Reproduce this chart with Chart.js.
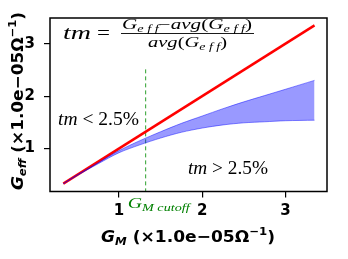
<!DOCTYPE html>
<html>
<head>
<meta charset="utf-8">
<script src="https://cdn.jsdelivr.net/npm/chart.js@4.4.0/dist/chart.umd.min.js"></script>
<style>
  html, body { margin: 0; padding: 0; background: #fff; }
  #wrap { width: 348px; height: 259px; }
</style>
</head>
<body>
<div id="wrap"><canvas id="grafico" width="348" height="259"></canvas></div>
<script>
// datos (unidades de 1e-05 Ohm^-1)
const gmIdeal = [0.33, 3.35];
const geffIdeal = [0.33, 3.35];

const gmBanda = [0.33, 0.5, 0.75, 1.0, 1.25, 1.5, 1.75, 2.0, 2.25, 2.5, 2.75, 3.0, 3.35];
const geffAlto = [0.33, 0.50, 0.73, 0.96, 1.15, 1.32, 1.48, 1.62, 1.76, 1.89, 2.01, 2.13, 2.30];
const geffBajo = [0.33, 0.49, 0.71, 0.92, 1.07, 1.20, 1.31, 1.39, 1.45, 1.49, 1.51, 1.53, 1.54];

const gmCutoff = 1.32;
const cutoffTop = 2.51;

const xTicks = [1, 2, 3];
const yTicks = [1, 2, 3];
const xLim = [0.17, 3.5];
const yLim = [0.18, 3.49];

const pts = (xs, ys) => xs.map((x, i) => ({ x, y: ys[i] }));

// texto enriquecido: partes con fuente y desplazamiento vertical
function medir(ctx, partes) {
    let w = 0;
    partes.forEach(p => { ctx.font = p.f; w += ctx.measureText(p.t).width; });
    return w;
}
// escribe las partes ocupando un ancho dado (estira en horizontal)
function escribir(ctx, partes, x, y, ancho) {
    const w = medir(ctx, partes);
    const s = ancho ? ancho / w : 1;
    ctx.save();
    ctx.translate(x, y);
    ctx.scale(s, 1);
    let cx = 0;
    partes.forEach(p => {
        ctx.font = p.f;
        ctx.fillText(p.t, cx, p.dy || 0);
        cx += ctx.measureText(p.t).width;
    });
    ctx.restore();
    return w * s;
}

const SERIF = '"Liberation Serif", "DejaVu Serif", serif';
const SANS = '"DejaVu Sans", sans-serif';

const textos = {
    id: 'textos',
    afterDraw(chart) {
        const ctx = chart.ctx;
        const a = chart.chartArea;
        const xs = chart.scales.x;
        ctx.save();
        ctx.textBaseline = 'alphabetic';
        ctx.fillStyle = '#000';

        // marco
        ctx.strokeStyle = '#000';
        ctx.lineWidth = 1.5;
        ctx.strokeRect(a.left, a.top, a.right - a.left, a.bottom - a.top);

        // formula tm
        escribir(ctx, [{ t: 'tm', f: 'italic 19px ' + SERIF }], 63, 39, 28);
        escribir(ctx, [{ t: '=', f: '19px ' + SERIF }], 97, 39, 13);
        const num = [
            { t: 'G', f: 'italic 14px ' + SERIF },
            { t: 'e f f', f: 'italic 9.5px ' + SERIF, dy: 3 },
            { t: '\u2212', f: '14px ' + SERIF },
            { t: 'avg', f: 'italic 14px ' + SERIF },
            { t: '(', f: '14px ' + SERIF },
            { t: 'G', f: 'italic 14px ' + SERIF },
            { t: 'e f f', f: 'italic 9.5px ' + SERIF, dy: 3 },
            { t: ')', f: '14px ' + SERIF }
        ];
        const den = num.slice(3);
        escribir(ctx, num, 122, 29, 130);
        escribir(ctx, den, 148, 46.5, 79);
        ctx.lineWidth = 0.9;
        ctx.beginPath(); ctx.moveTo(121, 33.5); ctx.lineTo(254, 33.5); ctx.stroke();

        // regiones
        escribir(ctx, [{ t: 'tm', f: 'italic 18px ' + SERIF }, { t: ' < 2.5%', f: '18px ' + SERIF }], 58, 125, 81);
        escribir(ctx, [{ t: 'tm', f: 'italic 18px ' + SERIF }, { t: ' > 2.5%', f: '18px ' + SERIF }], 188, 174, 80);

        // etiqueta del corte
        ctx.fillStyle = 'green';
        escribir(ctx, [{ t: 'G', f: 'italic 14px ' + SERIF }, { t: 'M cutoff', f: 'italic 10px ' + SERIF, dy: 3 }],
            xs.getPixelForValue(gmCutoff) - 18, 208, 62);

        // titulo eje x
        ctx.fillStyle = '#000';
        const tx = [
            { t: 'G', f: 'bold italic 16px ' + SANS },
            { t: 'M', f: 'bold italic 11px ' + SANS, dy: 3 },
            { t: ' (\u00d71.0e\u221205\u03a9', f: 'bold 16px ' + SANS },
            { t: '\u22121', f: 'bold 11px ' + SANS, dy: -7 },
            { t: ')', f: 'bold 16px ' + SANS }
        ];
        escribir(ctx, tx, 101, 242, 174);

        // titulo eje y
        const ty = [
            { t: 'G', f: 'bold italic 16px ' + SANS },
            { t: 'eff', f: 'bold italic 11px ' + SANS, dy: 3 },
            { t: ' (\u00d71.0e\u221205\u03a9', f: 'bold 16px ' + SANS },
            { t: '\u22121', f: 'bold 11px ' + SANS, dy: -7 },
            { t: ')', f: 'bold 16px ' + SANS }
        ];
        ctx.translate(23, 190);
        ctx.rotate(-Math.PI / 2);
        escribir(ctx, ty, 0, 0, 178);
        ctx.restore();
    }
};

const ctx = document.getElementById('grafico').getContext('2d');
new Chart(ctx, {
    type: 'scatter',
    data: {
        datasets: [
            {
                data: pts(gmBanda, geffBajo), showLine: true, pointRadius: 0,
                borderColor: 'rgba(0,0,255,0.45)', borderWidth: 1, tension: 0.3, fill: false
            },
            {
                data: pts(gmBanda, geffAlto), showLine: true, pointRadius: 0,
                borderColor: 'rgba(0,0,255,0.45)', borderWidth: 1, tension: 0.3,
                fill: '-1', backgroundColor: 'rgba(0,0,255,0.4)'
            },
            {
                data: pts(gmIdeal, geffIdeal), showLine: true, pointRadius: 0,
                borderColor: '#ff0000', borderWidth: 2.5, fill: false
            },
            {
                data: [{ x: gmCutoff, y: cutoffTop }, { x: gmCutoff, y: yLim[0] }], showLine: true, pointRadius: 0,
                borderColor: '#2ca02c', borderWidth: 1, borderDash: [4, 3], fill: false
            }
        ]
    },
    options: {
        responsive: false, animation: false,
        layout: { padding: { top: 9, right: 21, left: 0, bottom: 0 } },
        plugins: { legend: { display: false }, tooltip: { enabled: false } },
        scales: {
            x: {
                type: 'linear', min: xLim[0], max: xLim[1],
                afterBuildTicks: s => { s.ticks = xTicks.map(v => ({ value: v })); },
                afterFit: s => { s.height = 67.5; },
                border: { display: false },
                grid: { drawOnChartArea: false, drawTicks: true, tickLength: 6, color: '#000', lineWidth: 1.2 },
                ticks: { color: '#000', font: { family: 'DejaVu Sans', size: 15, weight: 'bold' }, padding: 5, maxRotation: 0 }
            },
            y: {
                type: 'linear', min: yLim[0], max: yLim[1],
                afterBuildTicks: s => { s.ticks = yTicks.map(v => ({ value: v })); },
                afterFit: s => { s.width = 50; },
                border: { display: false },
                grid: { drawOnChartArea: false, drawTicks: true, tickLength: 6, color: '#000', lineWidth: 1.2 },
                ticks: { color: '#000', font: { family: 'DejaVu Sans', size: 15, weight: 'bold' }, padding: 9 }
            }
        }
    },
    plugins: [textos]
});
</script>
</body>
</html>
